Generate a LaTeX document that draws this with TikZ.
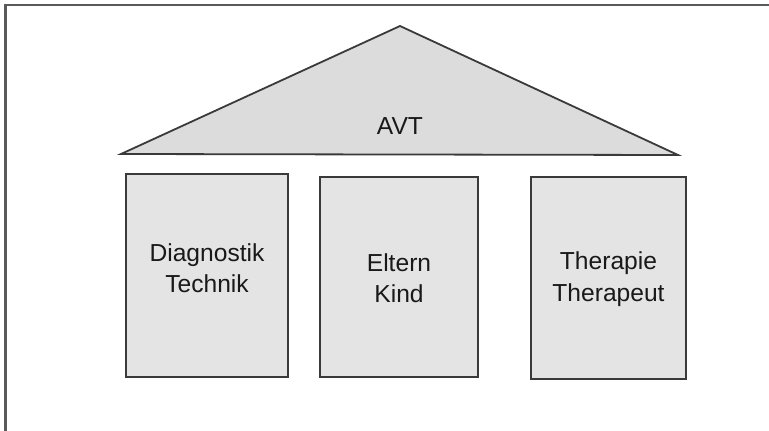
\documentclass[tikz,border=0pt]{standalone}
\usepackage{fontspec}
\setmainfont{Liberation Sans}
\definecolor{frameline}{HTML}{5A5A5A}
\definecolor{edge}{HTML}{3A3A3A}
\definecolor{pillarfill}{HTML}{E4E4E4}
\definecolor{rooffill}{HTML}{DCDCDC}
\begin{document}
\begin{tikzpicture}[x=1pt,y=-1pt,
  pillar/.style={draw=edge,line width=1.8pt,fill=pillarfill},
  label/.style={align=center,font=\fontsize{24.6}{31.5}\selectfont,text=black!90}]
  \useasboundingbox (0,0) rectangle (769,431);
  % outer frame, running off the right and lower edges
  \begin{scope}
    \clip (0,0) rectangle (769,431);
    \draw[frameline,line width=2.5pt] (5.5,440) -- (5.5,5) -- (780,5);
  \end{scope}
  % roof
  \coordinate (rl) at (121,154);
  \coordinate (rt) at (400,26);
  \coordinate (rr) at (678,155);
  \filldraw[draw=edge,line width=1.8pt,fill=rooffill,line join=miter] (rl) -- (rt) -- (rr) -- cycle;
  \node[label] (avt) at (400,126) {AVT};
  % pillars
  \draw[pillar] (126,174) rectangle (288,377);
  \draw[pillar] (320,177) rectangle (478,377);
  \draw[pillar] (531,177) rectangle (686,379);
  \node[label] (diag) at (207,268) {Diagnostik\\Technik};
  \node[label] (elt) at (399,278) {Eltern\\Kind};
  \node[label] (ther) at (608.5,279) {Therapie\\Therapeut};
\end{tikzpicture}
\end{document}
